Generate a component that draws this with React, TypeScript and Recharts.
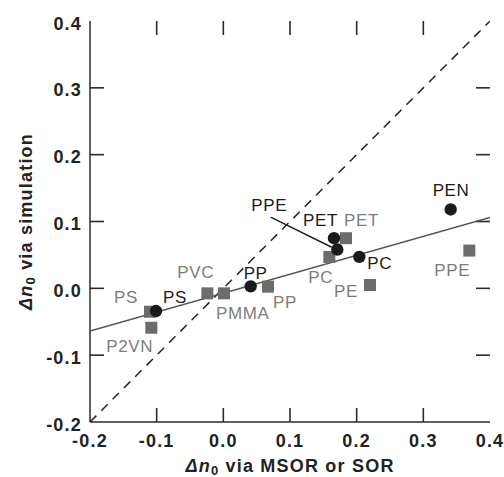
import { ScatterChart, Scatter, XAxis, YAxis } from "recharts"

// black circles
const circleNames = ["PS", "PP", "PET", "PPE", "PC", "PEN"]
const circleX = [-0.101, 0.041, 0.166, 0.171, 0.204, 0.341]
const circleY = [-0.034, 0.003, 0.075, 0.058, 0.047, 0.118]

// grey squares
const squareNames = ["PS", "P2VN", "PVC", "PMMA", "PP", "PC", "PET", "PE", "PPE"]
const squareX = [-0.11, -0.108, -0.024, 0.001, 0.067, 0.159, 0.184, 0.22, 0.369]
const squareY = [-0.035, -0.059, -0.0075, -0.0075, 0.0025, 0.047, 0.075, 0.005, 0.0565]

// fitted line and y = x
const fitX = [-0.2, 0.4]
const fitY = [-0.064, 0.106]
const diagX = [-0.2, 0.4]
const diagY = [-0.2, 0.4]

// leader from the PPE label to its point
const leaderX = [0.071, 0.1626]
const leaderY = [0.1065, 0.0615]

const TICKS = [-0.2, -0.1, 0.0, 0.1, 0.2, 0.3, 0.4]
const MIN = -0.2
const MAX = 0.4

// label offsets (px from point centre to text start / baseline)
const circleLabelOffsets = [[7, -8], [-7, -7], [-31, -12], [-86, -39], [8, 12], [-18, -13]]
const squareLabelOffsets = [[-36, -9], [-45, 24], [-30, -15], [-8, 26], [5, 21], [-21, 26], [-2, -12], [-36, 12], [-35, 25]]

const toPoints = (xs: number[], ys: number[]) => xs.map((x, i) => ({ x, y: ys[i] }))

const circles = circleNames.map((name, i) => ({ name, x: circleX[i], y: circleY[i], off: circleLabelOffsets[i] }))
const squares = squareNames.map((name, i) => ({ name, x: squareX[i], y: squareY[i], off: squareLabelOffsets[i] }))

// inner tick marks on all four sides, placed through the chart's own scales
const inner = TICKS.slice(1, -1)
const bottomTicks = inner.map((v) => ({ x: v, y: MIN }))
const topTicks = inner.map((v) => ({ x: v, y: MAX }))
const leftTicks = inner.map((v) => ({ x: MIN, y: v }))
const rightTicks = inner.map((v) => ({ x: MAX, y: v }))

const FONT = "'Liberation Sans', Arial, Helvetica, sans-serif"
const AXIS = "#2b2b2b"
const DARK = "#1b1b1b"
const GREY = "#6c6c6c"
const GREY_TEXT = "#7d7d7d"
const TICK_LEN = 14
const TICK_W = 1.6

const tickText = {
  fontFamily: FONT,
  fontSize: 18,
  fontWeight: "bold" as const,
  fill: "#222",
  letterSpacing: 1.2,
}

const axisLine = { stroke: AXIS, strokeWidth: 1.5 }

const BottomTick = (p: any) => (
  <text x={p.x} y={p.y + 25} textAnchor="middle" {...tickText}>
    {Number(p.payload.value).toFixed(1)}
  </text>
)

const LeftTick = (p: any) => (
  <text x={p.x - 8} y={p.y + 8.5} textAnchor="end" {...tickText}>
    {Number(p.payload.value).toFixed(1)}
  </text>
)

const tickMark = (dx: number, dy: number) => (p: any) => (
  <rect
    x={Math.min(p.cx, p.cx + dx) - (dx === 0 ? TICK_W / 2 : 0)}
    y={Math.min(p.cy, p.cy + dy) - (dy === 0 ? TICK_W / 2 : 0)}
    width={dx === 0 ? TICK_W : Math.abs(dx)}
    height={dy === 0 ? TICK_W : Math.abs(dy)}
    fill={AXIS}
  />
)

const titleStyle = {
  fontFamily: FONT,
  fontSize: 18,
  fontWeight: "bold" as const,
  fill: "#222",
  letterSpacing: 1.2,
}

const Title = ({ x, y, rotate, rest }: { x: number; y: number; rotate?: boolean; rest: string }) => (
  <text
    x={x}
    y={y}
    textAnchor="middle"
    transform={rotate ? `rotate(-90 ${x} ${y})` : undefined}
    {...titleStyle}
  >
    <tspan fontStyle="italic">Δn</tspan>
    <tspan fontSize={13} dy={3}>0</tspan>
    <tspan dy={-3}>{rest}</tspan>
  </text>
)

const NoShape = () => <g />

const CircleShape = (p: any) => (
  <g>
    <circle cx={p.cx} cy={p.cy} r={6.2} fill={DARK} />
    <text
      x={p.cx + p.payload.off[0]}
      y={p.cy + p.payload.off[1]}
      fontFamily={FONT}
      fontSize={17}
      letterSpacing={0.6}
      fill={DARK}
    >
      {p.payload.name}
    </text>
  </g>
)

const SquareShape = (p: any) => (
  <g>
    <rect x={p.cx - 6} y={p.cy - 6} width={12} height={12} fill={GREY} />
    <text
      x={p.cx + p.payload.off[0]}
      y={p.cy + p.payload.off[1]}
      fontFamily={FONT}
      fontSize={17}
      letterSpacing={0.6}
      fill={GREY_TEXT}
    >
      {p.payload.name}
    </text>
  </g>
)

export default function App() {
  return (
    <div style={{ position: "absolute", left: 0, top: 0, background: "#fff" }}>
      <ScatterChart width={504} height={477} margin={{ top: 21, right: 14, bottom: 0, left: 0 }}>
        <XAxis
          type="number"
          dataKey="x"
          domain={[MIN, MAX]}
          ticks={TICKS}
          interval={0}
          allowDataOverflow
          height={55}
          tickSize={0}
          tickMargin={0}
          tickLine={false}
          tick={BottomTick}
          axisLine={axisLine}
          label={{
            content: (props: any) => {
              const vb = props.viewBox
              return <Title x={vb.x + vb.width / 2} y={vb.y + 50} rest=" via MSOR or SOR" />
            },
          }}
        />
        <XAxis
          xAxisId="top"
          orientation="top"
          type="number"
          domain={[MIN, MAX]}
          allowDataOverflow
          height={0}
          tick={false}
          tickLine={false}
          axisLine={axisLine}
        />
        <YAxis
          type="number"
          dataKey="y"
          domain={[MIN, MAX]}
          ticks={TICKS}
          interval={0}
          allowDataOverflow
          width={90}
          tickSize={0}
          tickMargin={0}
          tickLine={false}
          tick={LeftTick}
          axisLine={axisLine}
          label={{
            content: (props: any) => {
              const vb = props.viewBox
              return <Title x={vb.x + 32} y={vb.y + vb.height / 2} rotate rest=" via simulation" />
            },
          }}
        />
        <YAxis
          yAxisId="right"
          orientation="right"
          type="number"
          domain={[MIN, MAX]}
          allowDataOverflow
          width={0}
          tick={false}
          tickLine={false}
          axisLine={axisLine}
        />

        <Scatter data={bottomTicks} shape={tickMark(0, -TICK_LEN)} isAnimationActive={false} />
        <Scatter data={topTicks} shape={tickMark(0, TICK_LEN)} isAnimationActive={false} />
        <Scatter data={leftTicks} shape={tickMark(TICK_LEN, 0)} isAnimationActive={false} />
        <Scatter data={rightTicks} shape={tickMark(-TICK_LEN, 0)} isAnimationActive={false} />

        <Scatter
          data={toPoints(diagX, diagY)}
          line={{ stroke: "#222", strokeWidth: 1.5, strokeDasharray: "9 7" }}
          stroke="#222"
          shape={NoShape}
          isAnimationActive={false}
        />
        <Scatter
          data={toPoints(fitX, fitY)}
          line={{ stroke: "#555", strokeWidth: 1.5 }}
          stroke="#555"
          shape={NoShape}
          isAnimationActive={false}
        />
        <Scatter
          data={toPoints(leaderX, leaderY)}
          line={{ stroke: "#222", strokeWidth: 1.5 }}
          stroke="#222"
          shape={NoShape}
          isAnimationActive={false}
        />
        <Scatter data={squares} shape={SquareShape} isAnimationActive={false} />
        <Scatter data={circles} shape={CircleShape} isAnimationActive={false} />
      </ScatterChart>
    </div>
  )
}
